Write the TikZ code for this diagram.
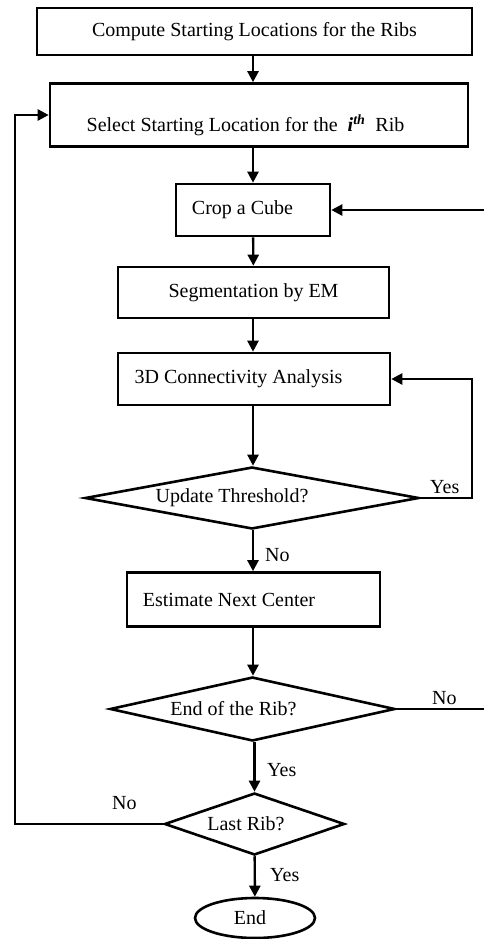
\documentclass[tikz,border=0pt]{standalone}
\usepackage{fontspec}
\setmainfont{Liberation Serif}
\usetikzlibrary{arrows.meta,shapes.geometric}
\begin{document}
\begin{tikzpicture}[x=1pt, y=-1pt, font=\fontsize{20}{24}\selectfont,
  box/.style={draw, line width=2.6pt, inner sep=0pt},
  dec/.style={draw, diamond, aspect=5, line width=2.6pt, inner sep=0pt},
  arr/.style={line width=2.4pt, -{Triangle[length=11pt,width=11pt]}},
  lbl/.style={inner sep=0pt, anchor=west}]
\useasboundingbox (0,0) rectangle (484,939);
\node[box, minimum width=435pt, minimum height=47pt] (comp) at (254.5,31.5) {Compute Starting Locations for the Ribs};
\node[box, minimum width=418pt, minimum height=63pt] (sel) at (259,115) {\raisebox{-17pt}[0pt][0pt]{Select Starting Location for the \ \textbf{\textit{i}}\textsuperscript{\textbf{\textit{th}}} \ Rib\hspace*{27pt}}};
\node[box, minimum width=154pt, minimum height=52pt] (crop) at (253,210) {Crop a Cube\hspace*{21pt}};
\node[box, minimum width=271pt, minimum height=51pt] (seg) at (253.5,292.5) {Segmentation by EM};
\node[box, minimum width=272pt, minimum height=52pt] (conn) at (254,379) {3D Connectivity Analysis\hspace*{31pt}};
\node[dec, minimum width=334pt, minimum height=62pt] (upd) at (252,498) {Update Threshold?\hspace*{40pt}};
\node[box, minimum width=253pt, minimum height=54pt] (est) at (253.5,599.5) {Estimate Next Center\hspace*{49pt}};
\node[dec, minimum width=285pt, minimum height=64pt] (endr) at (252.5,709) {End of the Rib?\hspace*{38pt}};
\node[dec, minimum width=180pt, minimum height=62pt] (last) at (254.5,824) {Last Rib?\hspace*{17pt}};
\node[draw, ellipse, line width=2.6pt, minimum width=120pt, minimum height=40pt, inner sep=0pt] (end) at (255,918) {End\hspace*{10pt}};
% down the main line
\draw[arr] (comp.south -| crop.north) -- (sel.north -| crop.north);
\draw[arr] (sel.south -| crop.north) -- (crop.north);
\draw[arr] (crop) -- (seg);
\draw[arr] (seg.south -| crop.north) -- (conn.north -| crop.north);
\draw[arr] (conn.south -| crop.north) -- (upd.north -| crop.north);
\draw[arr] (upd.south -| crop.north) -- (est.north -| crop.north);
\draw[arr] (est.south -| crop.north) -- (endr.north -| crop.north);
\draw[arr] (endr.south -| last.north) -- (last.north);
\draw[arr] (last) -- (end);
% loops
\coordinate (updR) at (472,498);
\coordinate (endR) at (488,709);
\coordinate (lastL) at (15,824);
\draw[arr] (upd.east) -- (updR) |- (conn.east);
\draw[arr] (endr.east) -- (endR) |- (crop.east);
\draw[arr] (last.west) -- (lastL) |- (sel.west);
\node[lbl] (y1) at (430,487) {Yes};
\node[lbl] (n1) at (265,555) {No};
\node[lbl] (n2) at (432,698) {No};
\node[lbl] (y2) at (267,770) {Yes};
\node[lbl] (n3) at (112,803) {No};
\node[lbl] (y3) at (270,875) {Yes};
\end{tikzpicture}
\end{document}
